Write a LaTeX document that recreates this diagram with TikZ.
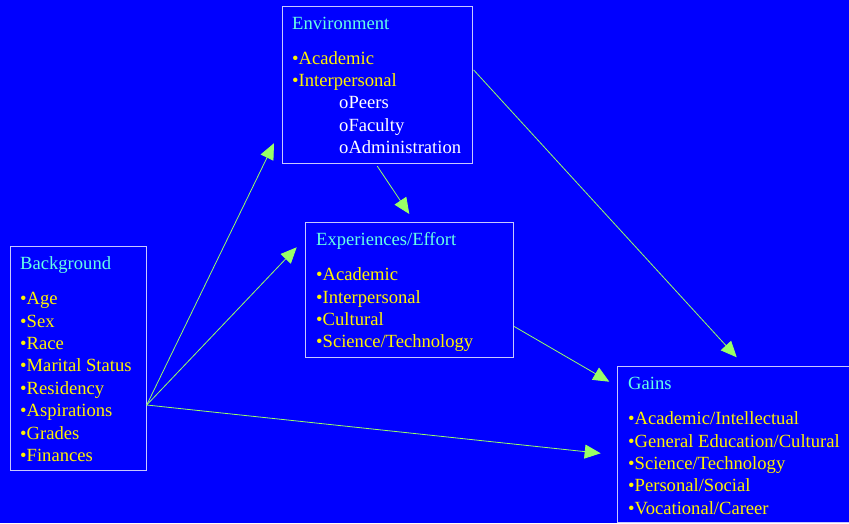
\documentclass[tikz,border=0pt]{standalone}
\usepackage{fontspec}
\setmainfont{Liberation Serif}
\usetikzlibrary{arrows.meta,calc}

\definecolor{slideblue}{RGB}{0,0,255}
\definecolor{titlecyan}{RGB}{102,255,230}
\definecolor{boxline}{RGB}{200,200,255}
\definecolor{arrowgreen}{RGB}{153,255,102}

\tikzset{
  box/.style={draw=boxline,line width=1.2pt,anchor=north west,inner sep=0pt},
  txt/.style={anchor=base west,inner sep=0pt,font=\fontsize{18.6}{22.4}\selectfont},
  title/.style={txt,text=titlecyan},
  item/.style={txt,text=yellow},
  subitem/.style={txt,text=white},
  link/.style={draw=arrowgreen,line width=0.8pt,-{Triangle[length=16pt,width=14pt]}}
}

\begin{document}
\begin{tikzpicture}[x=1pt,y=-1pt]
\fill[slideblue] (0,0) rectangle (849,523);
\useasboundingbox (0,0) rectangle (849,523);

\node[box,minimum width=190.5,minimum height=157.5] (env) at (281.5,5.5) {};
\node[box,minimum width=136,minimum height=224.5] (bg) at (9.5,245.5) {};
\node[box,minimum width=208,minimum height=135] (exp) at (305,221.5) {};
\node[box,minimum width=236,minimum height=156] (gains) at (617,366) {};

\node[title] (env-t) at (292,29) {Environment};
\foreach \t [count=\i from 0] in {Academic,Interpersonal}
  \node[item] (env-\i) at (292,{64+22.4*\i}) {•\t};
\foreach \t [count=\i from 0] in {Peers,Faculty,Administration}
  \node[subitem] (env-s\i) at (339,{108.8+22.4*\i}) {o\t};

\node[title] (bg-t) at (20,269) {Background};
\foreach \t [count=\i from 0] in {Age,Sex,Race,Marital Status,Residency,Aspirations,Grades,Finances}
  \node[item] (bg-\i) at (20,{304.6+22.4*\i}) {•\t};

\node[title] (exp-t) at (316,245) {Experiences/Effort};
\foreach \t [count=\i from 0] in {Academic,Interpersonal,Cultural,Science/Technology}
  \node[item] (exp-\i) at (316,{280.7+22.4*\i}) {•\t};

\node[title] (gains-t) at (628,389.3) {Gains};
\foreach \t [count=\i from 0] in {Academic/Intellectual,General Education/Cultural,Science/Technology,Personal/Social,Vocational/Career}
  \node[item] (gains-\i) at (628,{424.6+22.4*\i}) {•\t};

\draw[link] ($(bg.north east)+(0,159.5)$) -- ($(env.south west)+(-7.5,-21)$);
\draw[link] ($(bg.north east)+(0,159.5)$) -- ($(exp.north west)+(-8.3,25.8)$);
\draw[link] ($(bg.north east)+(0,159.5)$) -- ($(gains.north west)+(-16.3,87.3)$);
\draw[link] ($(env.south west)+(95.8,2)$) -- ($(exp.north west)+(104.3,-7.5)$);
\draw[link] ($(env.north east)+(0.5,64.5)$) -- ($(gains.north west)+(119.7,-8.7)$);
\draw[link] ($(exp.north east)+(0,105)$) -- ($(gains.north west)+(-7.7,15.7)$);
\end{tikzpicture}
\end{document}
